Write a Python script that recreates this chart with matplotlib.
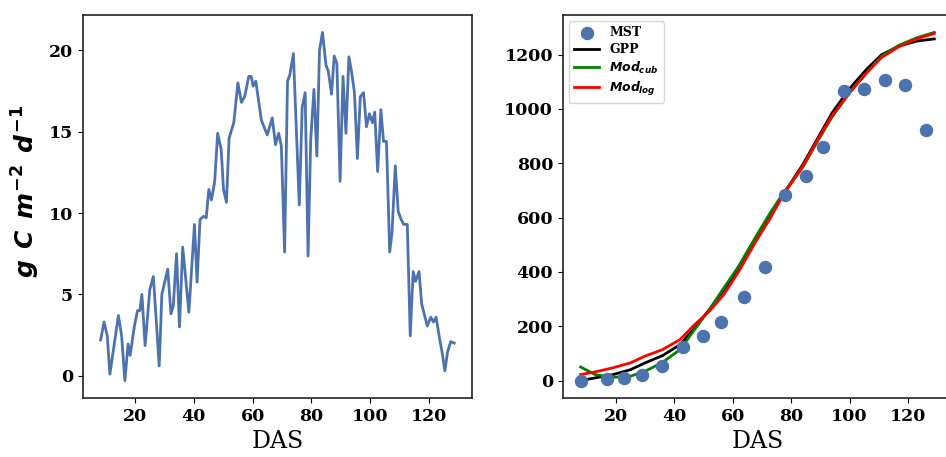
import matplotlib
matplotlib.use('Agg')
import matplotlib.pyplot as plt
import numpy as np

plt.rcParams['mathtext.fontset'] = 'custom'
plt.rcParams['mathtext.it'] = 'DejaVu Sans:bold:italic'
plt.rcParams['mathtext.rm'] = 'DejaVu Sans:bold'
plt.rcParams['mathtext.bf'] = 'DejaVu Sans:bold:italic'

# daily GPP (left panel)
das_daily = [8.25, 9.4, 10.5, 11.4, 14.3, 15.4, 16.5, 17.6, 18.3, 19.7, 20.8, 21.6, 22.3, 23.4, 25.0, 26.2,
             28.2, 29.1, 31.1, 32.2, 33.0, 34.1, 35.1, 36.2, 38.3, 40.2, 41.1, 42.1, 43.3, 44.2, 45.1, 46.0,
             47.1, 48.1, 49.3, 50.1, 51.1, 52.0, 53.6, 55.0, 56.2, 57.3, 58.7, 59.5, 60.2, 61.1, 63.0, 65.0,
             66.7, 67.8, 68.9, 69.8, 70.9, 71.9, 72.7, 73.9, 75.9, 76.9, 77.9, 78.9, 79.8, 80.9, 81.9, 82.8,
             83.8, 85.0, 85.8, 86.9, 87.8, 88.7, 89.8, 90.8, 91.8, 92.8, 93.7, 94.7, 95.7, 96.7, 97.8, 98.8,
             99.8, 100.8, 101.6, 102.6, 103.7, 104.6, 105.6, 106.7, 107.5, 108.6, 109.6, 110.6, 111.5, 112.7,
             113.7, 114.7, 115.5, 116.7, 117.6, 118.6, 119.5, 120.7, 121.6, 122.5, 123.7, 124.5, 125.5, 126.4,
             127.5, 128.7]
gpp_daily = [2.2, 3.3, 2.45, 0.1, 3.7, 2.45, -0.3, 1.95, 1.25, 3.0, 4.0, 4.0, 5.0, 1.85, 5.3, 6.1,
             0.6, 5.0, 6.55, 3.8, 4.3, 7.5, 3.0, 7.9, 3.9, 9.3, 5.75, 9.6, 9.8, 9.7, 11.45, 10.8,
             11.95, 14.9, 13.9, 11.45, 10.65, 14.6, 15.55, 18.0, 16.8, 17.15, 18.4, 18.4, 17.8, 18.1, 15.7, 14.8,
             15.85, 14.2, 14.9, 14.1, 7.6, 18.1, 18.5, 19.8, 10.5, 16.5, 17.4, 7.35, 14.5, 17.6, 13.5, 20.0,
             21.1, 19.1, 18.7, 17.3, 19.65, 19.2, 11.95, 18.4, 14.9, 19.6, 18.7, 17.4, 13.35, 17.15, 17.4, 15.3,
             16.1, 15.55, 16.2, 12.55, 16.35, 14.4, 14.4, 7.6, 8.8, 12.9, 10.1, 9.6, 9.3, 9.3,
             2.45, 6.4, 5.8, 6.4, 4.4, 3.7, 3.06, 3.6, 3.3, 3.6, 2.27, 1.5, 0.3, 1.45,
             2.1, 2.0]

# measured biomass (right panel)
das_mst = [8, 17, 23, 29, 36, 43, 50, 56, 64, 71, 78, 85, 91, 98, 105, 112, 119, 126]
mst = [0, 5, 10, 20, 55, 125, 165, 215, 307, 417, 682, 752, 860, 1065, 1074, 1108, 1088, 921]

# cumulative GPP and model curves
das_cum = [8, 13, 19, 25, 30, 36, 42, 47, 52, 57, 62, 68, 73, 77, 84, 89, 94, 100, 106, 111, 117, 123, 129]
gpp_cum = [0, 10, 22, 40, 65, 92, 132, 194, 261, 335, 410, 525, 610, 680, 795, 890, 985, 1075, 1148, 1200,
           1232, 1250, 1258]
mod_cub = [50, 22, 12, 16, 34, 67, 114, 188, 261, 341, 420, 531, 620, 685, 785, 880, 970, 1060, 1135, 1195,
           1235, 1262, 1282]
mod_log = [22, 32, 47, 65, 90, 114, 151, 206, 255, 317, 400, 513, 600, 678, 789, 885, 975, 1060, 1135, 1190,
           1230, 1258, 1278]

blue = '#4c72b0'
tickfont = {'family': 'DejaVu Serif', 'weight': 'bold', 'size': 12.5}

fig = plt.figure(figsize=(9.46, 4.57), dpi=100)
ax1 = fig.add_axes([0.0877, 0.1291, 0.4112, 0.8381])
ax2 = fig.add_axes([0.5951, 0.1291, 0.4112, 0.8381])

ax1.plot(das_daily, gpp_daily, color=blue, lw=2)
ax1.set_xticks([20, 40, 60, 80, 100, 120])
ax1.set_yticks([0, 5, 10, 15, 20])
ax1.set_xlabel('DAS', family='DejaVu Serif', fontsize=17)
ax1.set_ylabel(r'$g\;\,C\;\,m^{-2}\;\,d^{-1}$', fontsize=18)
ax1.yaxis.set_label_coords(-0.105, 0.54)

ax2.scatter(das_mst, mst, s=75, color=blue, label='MST', zorder=3)
ax2.plot(das_cum, gpp_cum, color='black', lw=2, label='GPP')
ax2.plot(das_cum, mod_cub, color='green', lw=2, label=r'$Mod_{cub}$')
ax2.plot(das_cum, mod_log, color='red', lw=2, label=r'$Mod_{log}$')
ax2.set_xticks([20, 40, 60, 80, 100, 120])
ax2.set_yticks([0, 200, 400, 600, 800, 1000, 1200])
ax2.set_xlabel('DAS', family='DejaVu Serif', fontsize=17)
ax2.legend(loc='upper left', prop={'family': 'DejaVu Serif', 'weight': 'bold', 'size': 9},
           handlelength=2, borderpad=0.4, labelspacing=0.3)

for ax in (ax1, ax2):
    for lab in ax.get_xticklabels() + ax.get_yticklabels():
        lab.set_fontproperties(tickfont)
    for sp in ax.spines.values():
        sp.set_linewidth(1.2)
        sp.set_color('#222222')

fig.savefig('out.png', dpi=100)
